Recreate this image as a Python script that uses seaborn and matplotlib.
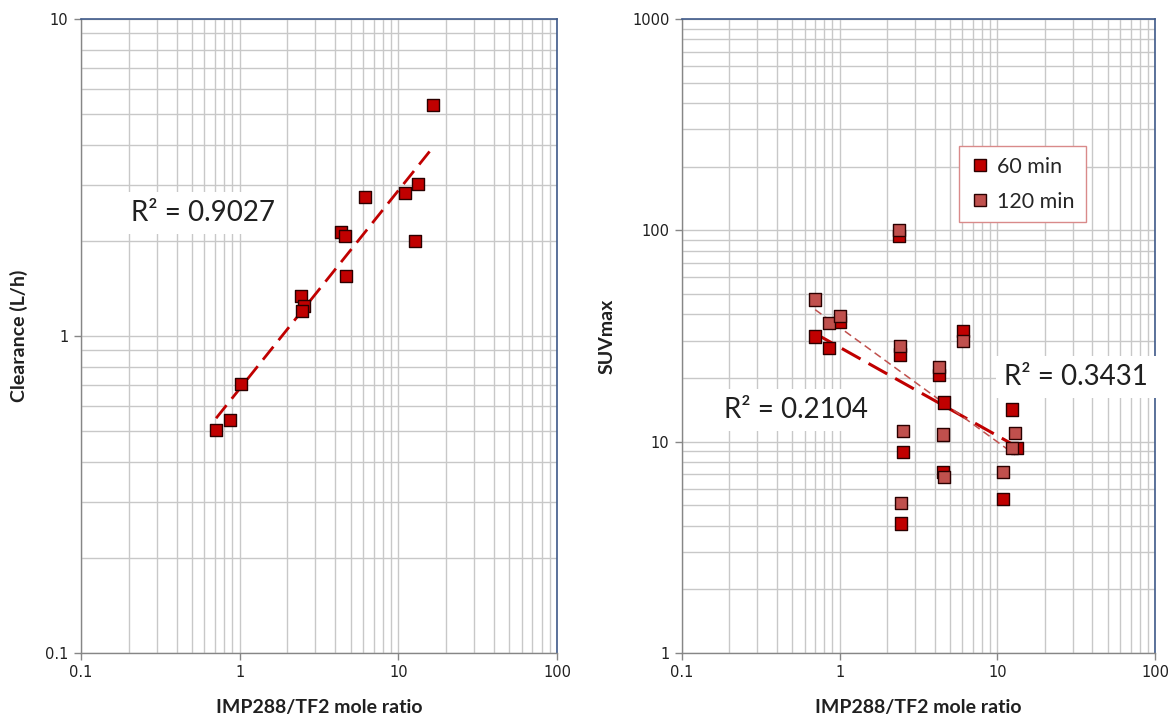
import numpy as np
import pandas as pd
import matplotlib
matplotlib.use("Agg")
import matplotlib.pyplot as plt
import seaborn as sns
from matplotlib.ticker import LogLocator, FixedLocator, FixedFormatter, NullFormatter
from matplotlib.lines import Line2D

# Clearance vs mole ratio
ratio_cl = [0.71, 0.87, 1.02, 2.43, 2.53, 2.48, 4.33, 4.63, 4.68, 6.19, 11.0, 12.7, 13.3, 16.5]
clearance = [0.505, 0.544, 0.704, 1.34, 1.24, 1.20, 2.13, 2.06, 1.55, 2.74, 2.83, 2.00, 3.02, 5.35]

# SUVmax vs mole ratio, two time points
ratio_60 = [0.70, 0.86, 1.00, 2.39, 2.41, 2.51, 2.46, 4.26, 4.59, 4.54, 6.08, 10.85, 12.43, 13.26]
suv_60 = [31.4, 27.8, 36.9, 94.0, 25.8, 8.93, 4.10, 20.7, 15.3, 7.2, 33.4, 5.37, 14.2, 9.3]
ratio_120 = [0.70, 0.86, 1.00, 2.39, 2.41, 2.51, 2.46, 4.26, 4.54, 4.61, 6.08, 10.85, 12.99, 12.43]
suv_120 = [47.1, 36.5, 39.4, 100.3, 28.3, 11.2, 5.14, 22.6, 10.8, 6.82, 29.9, 7.2, 11.0, 9.3]

r2_labels = ["R\u00b2 = 0.9027", "R\u00b2 = 0.2104", "R\u00b2 = 0.3431"]
series_names = ["60 min", "120 min"]

C60 = "#C00000"
C120 = "#C0504D"
EDGE = "#2a0000"
GRID = "#C8C8C8"
AXIS_GRAY = "#868686"
FRAME_BLUE = "#3F5A8A"

sns.set_theme(style="white")
plt.rcParams["font.family"] = ["DejaVu Sans"]

fig = plt.figure(figsize=(11.74, 7.2), dpi=100)
ax1 = fig.add_axes([0.069, 0.0931, 0.4055, 0.8806])
ax2 = fig.add_axes([0.5809, 0.0931, 0.4029, 0.8806])


def power_fit(x, y):
    lx, ly = np.log10(x), np.log10(y)
    b, a = np.polyfit(lx, ly, 1)
    xs = np.logspace(lx.min(), lx.max(), 50)
    return xs, 10 ** (a + b * np.log10(xs))


def style_log_axes(ax, ymin, ymax, ylabel):
    ax.set_xscale("log")
    ax.set_yscale("log")
    ax.set_xlim(0.1, 100)
    ax.set_ylim(ymin, ymax)
    ax.xaxis.set_minor_locator(LogLocator(base=10, subs=np.arange(2, 10)))
    ax.yaxis.set_minor_locator(LogLocator(base=10, subs=np.arange(2, 10)))
    ax.xaxis.set_minor_formatter(NullFormatter())
    ax.yaxis.set_minor_formatter(NullFormatter())
    xt = [0.1, 1, 10, 100]
    ax.xaxis.set_major_locator(FixedLocator(xt))
    ax.xaxis.set_major_formatter(FixedFormatter(["0.1", "1", "10", "100"]))
    yt = [10 ** k for k in range(int(np.log10(ymin)), int(np.log10(ymax)) + 1)]
    ax.yaxis.set_major_locator(FixedLocator(yt))
    ax.yaxis.set_major_formatter(FixedFormatter([f"{v:g}" for v in yt]))
    ax.grid(True, which="both", color=GRID, linewidth=1.0)
    ax.set_axisbelow(True)
    ax.tick_params(which="major", direction="out", length=5, width=1,
                   color=AXIS_GRAY, labelsize=10.5, labelcolor="#202020", pad=4,
                   left=True, bottom=True)
    ax.tick_params(which="minor", length=0)
    for s in ["left", "bottom"]:
        ax.spines[s].set_color(AXIS_GRAY)
        ax.spines[s].set_linewidth(1.0)
    for s in ["top", "right"]:
        ax.spines[s].set_color(FRAME_BLUE)
        ax.spines[s].set_linewidth(1.2)
    ax.set_xlabel("IMP288/TF2 mole ratio", family="Lato", fontweight="bold",
                  fontsize=14, color="#202020", labelpad=13)
    ax.set_ylabel(ylabel, family="Lato", fontweight="bold",
                  fontsize=14, color="#202020", labelpad=12)


# Left panel: clearance
df_cl = pd.DataFrame({"ratio": ratio_cl, "clearance": clearance})
xs, ys = power_fit(df_cl["ratio"].values, df_cl["clearance"].values)
ax1.plot(xs, ys, color=C60, linestyle=(0, (6, 3)), linewidth=2.0, zorder=2)
sns.scatterplot(data=df_cl, x="ratio", y="clearance", ax=ax1, marker="s",
                s=78, color=C60, edgecolor=EDGE, linewidth=1.0, zorder=3,
                legend=False)
style_log_axes(ax1, 0.1, 10, "Clearance (L/h)")
ax1.text(0.256, 0.694, r2_labels[0], transform=ax1.transAxes, ha="center",
         va="center", family="Lato", fontsize=20, color="#202020",
         bbox=dict(facecolor="white", edgecolor="none", pad=6), zorder=4)

# Right panel: SUVmax at two times
df_suv = pd.concat([
    pd.DataFrame({"ratio": ratio_60, "suv": suv_60, "time": series_names[0]}),
    pd.DataFrame({"ratio": ratio_120, "suv": suv_120, "time": series_names[1]}),
])
xs60, ys60 = power_fit(np.array(ratio_60), np.array(suv_60))
xs120, ys120 = power_fit(np.array(ratio_120), np.array(suv_120))
ax2.plot(xs60, ys60, color=C60, linestyle=(0, (7, 3)), linewidth=2.2, zorder=2)
ax2.plot(xs120, ys120, color=C120, linestyle=(0, (5, 3)), linewidth=1.1, zorder=2)
sns.scatterplot(data=df_suv, x="ratio", y="suv", hue="time", ax=ax2,
                marker="s", s=78, palette={series_names[0]: C60, series_names[1]: C120},
                edgecolor=EDGE, linewidth=1.0, zorder=3, legend=False)
style_log_axes(ax2, 1, 1000, "SUVmax")
ax2.text(0.241, 0.383, r2_labels[1], transform=ax2.transAxes, ha="center",
         va="center", family="Lato", fontsize=20, color="#202020",
         bbox=dict(facecolor="white", edgecolor="none", pad=6), zorder=4)
ax2.text(0.833, 0.435, r2_labels[2], transform=ax2.transAxes, ha="center",
         va="center", family="Lato", fontsize=20, color="#202020",
         bbox=dict(facecolor="white", edgecolor="none", pad=6), zorder=4)

handles = [Line2D([], [], marker="s", linestyle="none", markersize=8,
                  markerfacecolor=c, markeredgecolor=EDGE, markeredgewidth=1.0)
           for c in (C60, C120)]
leg = ax2.legend(handles, series_names, loc="upper left",
                 bbox_to_anchor=(0.585, 0.80), frameon=True,
                 fancybox=False, prop={"family": "Lato", "size": 15.5},
                 handletextpad=0.3, borderpad=0.5, labelspacing=0.7,
                 handlelength=1.0, borderaxespad=0.0)
leg.get_frame().set_edgecolor("#D98A8A")
leg.get_frame().set_linewidth(1.0)
leg.get_frame().set_facecolor("white")
leg.get_frame().set_alpha(1.0)

fig.savefig("out.png", dpi=100, facecolor="white")
